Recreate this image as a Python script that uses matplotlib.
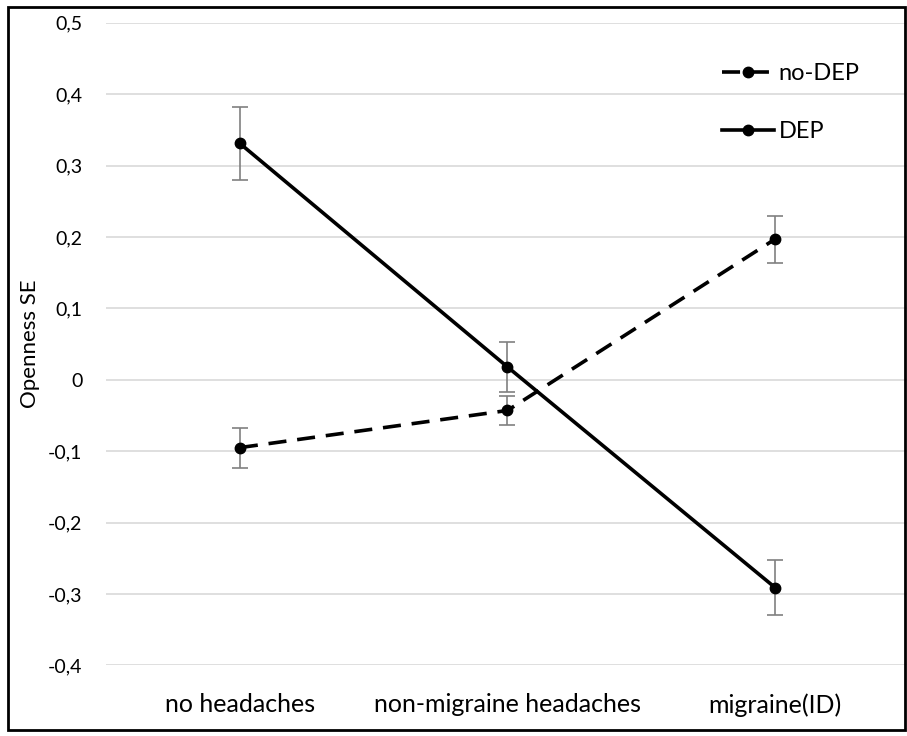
import matplotlib.pyplot as plt

plt.rcParams['font.family'] = ['Lato', 'DejaVu Sans']

categories = ['no headaches', 'non-migraine headaches', 'migraine(ID)']
no_dep = [-0.095, -0.043, 0.197]
no_dep_se = [0.028, 0.020, 0.033]
dep = [0.331, 0.018, -0.291]
dep_se = [0.051, 0.035, 0.038]
yticks = [0.5, 0.4, 0.3, 0.2, 0.1, 0, -0.1, -0.2, -0.3, -0.4]

fig = plt.figure(figsize=(9.07, 7.36), dpi=100)
ax = fig.add_axes([0.117, 0.096, 0.885, 0.873])

x = range(len(categories))

# barras de error grises
ax.errorbar(x, no_dep, yerr=no_dep_se, fmt='none', ecolor='#808080',
            elinewidth=1.2, capsize=6, capthick=1.2, zorder=2)
ax.errorbar(x, dep, yerr=dep_se, fmt='none', ecolor='#808080',
            elinewidth=1.2, capsize=6, capthick=1.2, zorder=2)

ax.plot(x, no_dep, color='black', linestyle=(0, (5, 3)), linewidth=2.6,
        marker='o', markersize=7.5, label='no-DEP', zorder=3)
ax.plot(x, dep, color='black', linestyle='-', linewidth=2.6,
        marker='o', markersize=7.5, label='DEP', zorder=3)

ax.set_xlim(-0.5, 2.5)
ax.set_ylim(-0.4, 0.5)
ax.set_yticks(yticks)
ax.set_yticklabels([('%g' % v).replace('.', ',') for v in yticks], fontsize=14)
ax.set_xticks(list(x))
ax.set_xticklabels(categories, fontsize=18)
ax.tick_params(axis='both', length=0)
ax.tick_params(axis='x', pad=20)
ax.tick_params(axis='y', pad=17)
ax.set_ylabel('Openness SE', fontsize=16, labelpad=6)

ax.grid(axis='y', color='#d9d9d9', linewidth=1.2)
ax.set_axisbelow(True)
for s in ax.spines.values():
    s.set_visible(False)

ax.legend(loc='upper right', bbox_to_anchor=(0.965, 0.97), frameon=False,
          fontsize=17, handlelength=2.2, labelspacing=1.55, handletextpad=0.2)

# marco negro alrededor de la figura
fig.patches.append(plt.Rectangle((0.009, 0.008), 0.989, 0.982, transform=fig.transFigure,
                                 fill=False, edgecolor='black', linewidth=2))

plt.savefig('out.png', dpi=100)
